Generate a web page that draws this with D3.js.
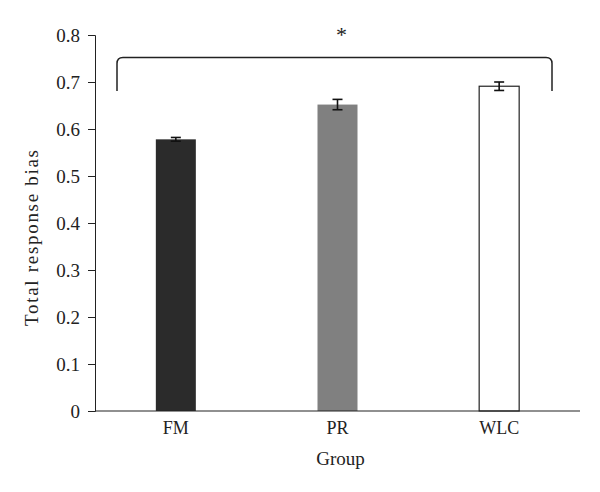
<!DOCTYPE html>
<html>
<head>
<meta charset="utf-8">
<script src="https://cdn.jsdelivr.net/npm/d3@7"></script>
<style>
  body { margin: 0; background: #fff; }
  text { font-family: "Liberation Serif", "DejaVu Serif", serif; fill: #222; }
</style>
</head>
<body>
<div id="chart"></div>
<script>
// data
var groups = ["FM", "PR", "WLC"];
var means = [0.578, 0.652, 0.691];
var errors = [0.004, 0.011, 0.009];
var fills = ["#2b2b2b", "#808080", "#ffffff"];
var yTicks = [0, 0.1, 0.2, 0.3, 0.4, 0.5, 0.6, 0.7, 0.8];
var bracket = { top: 0.752, bottom: 0.681, label: "*" };

var W = 600, H = 492;
var margin = {top: 35, right: 20, bottom: 81, left: 95};
var width = W - margin.left - margin.right,
    height = H - margin.top - margin.bottom;

var svg = d3.select("#chart").append("svg")
  .attr("width", W).attr("height", H)
  .append("g")
  .attr("transform", "translate(" + margin.left + "," + margin.top + ")");

var x = d3.scaleBand().domain(groups).range([0, width]);
var y = d3.scaleLinear().domain([0, 0.8]).range([height, 0]);
var barW = 40;

// y axis
var yAxis = svg.append("g")
  .call(d3.axisLeft(y).tickValues(yTicks).tickFormat(d3.format("")).tickSizeOuter(0).tickSize(7).tickPadding(8));
yAxis.select(".domain").attr("stroke", "#222");
yAxis.selectAll(".tick line").attr("stroke", "#222");
yAxis.selectAll("text").style("font-size", "19px").attr("fill", "#222");

// bars
svg.selectAll("rect.bar")
  .data(groups)
  .enter().append("rect")
  .attr("class", "bar")
  .attr("x", function(d) { return x(d) + x.bandwidth()/2 - barW/2; })
  .attr("width", barW)
  .attr("y", function(d, i) { return y(means[i]); })
  .attr("height", function(d, i) { return height - y(means[i]); })
  .attr("fill", function(d, i) { return fills[i]; })
  .attr("stroke", function(d, i) { return i == 2 ? "#222" : "none"; })
  .attr("stroke-width", 1.2);

// error bars
var eb = svg.selectAll("g.err").data(groups).enter().append("g")
  .attr("stroke", "#111").attr("stroke-width", 1.6);
eb.append("line")
  .attr("x1", function(d) { return x(d) + x.bandwidth()/2; })
  .attr("x2", function(d) { return x(d) + x.bandwidth()/2; })
  .attr("y1", function(d, i) { return y(means[i] - errors[i]); })
  .attr("y2", function(d, i) { return y(means[i] + errors[i]); });
[-1, 1].forEach(function(s) {
  eb.append("line")
    .attr("x1", function(d) { return x(d) + x.bandwidth()/2 - 5; })
    .attr("x2", function(d) { return x(d) + x.bandwidth()/2 + 5; })
    .attr("y1", function(d, i) { return y(means[i] + s*errors[i]); })
    .attr("y2", function(d, i) { return y(means[i] + s*errors[i]); });
});

// x axis (no ticks)
svg.append("line")
  .attr("x1", 0).attr("x2", width)
  .attr("y1", height).attr("y2", height)
  .attr("stroke", "#222").attr("stroke-width", 1.2);

svg.selectAll("text.cat").data(groups).enter().append("text")
  .attr("class", "cat")
  .attr("x", function(d) { return x(d) + x.bandwidth()/2; })
  .attr("y", height + 23)
  .attr("text-anchor", "middle")
  .style("font-size", "18px")
  .text(function(d) { return d; });

// axis titles
svg.append("text")
  .attr("x", width/2 + 3).attr("y", height + 54)
  .attr("text-anchor", "middle")
  .style("font-size", "19px")
  .text("Group");

svg.append("text")
  .attr("transform", "rotate(-90)")
  .attr("x", -(238 - margin.top)).attr("y", -57)
  .attr("text-anchor", "middle")
  .attr("textLength", 176)
  .attr("lengthAdjust", "spacing")
  .style("font-size", "19px")
  .text("Total response bias");

// significance bracket
var bx0 = 22, bx1 = 457, r = 6;
var yt = y(bracket.top), yb = y(bracket.bottom);
var p = d3.path();
p.moveTo(bx0, yb);
p.lineTo(bx0, yt + r);
p.quadraticCurveTo(bx0, yt, bx0 + r, yt);
p.lineTo(bx1 - r, yt);
p.quadraticCurveTo(bx1, yt, bx1, yt + r);
p.lineTo(bx1, yb);
svg.append("path").attr("d", p.toString())
  .attr("fill", "none").attr("stroke", "#222").attr("stroke-width", 1.5);

svg.append("text")
  .attr("x", x("PR") + x.bandwidth()/2 + 4).attr("y", yt - 16)
  .attr("text-anchor", "middle")
  .style("font-size", "22px")
  .text(bracket.label);
</script>
</body>
</html>
